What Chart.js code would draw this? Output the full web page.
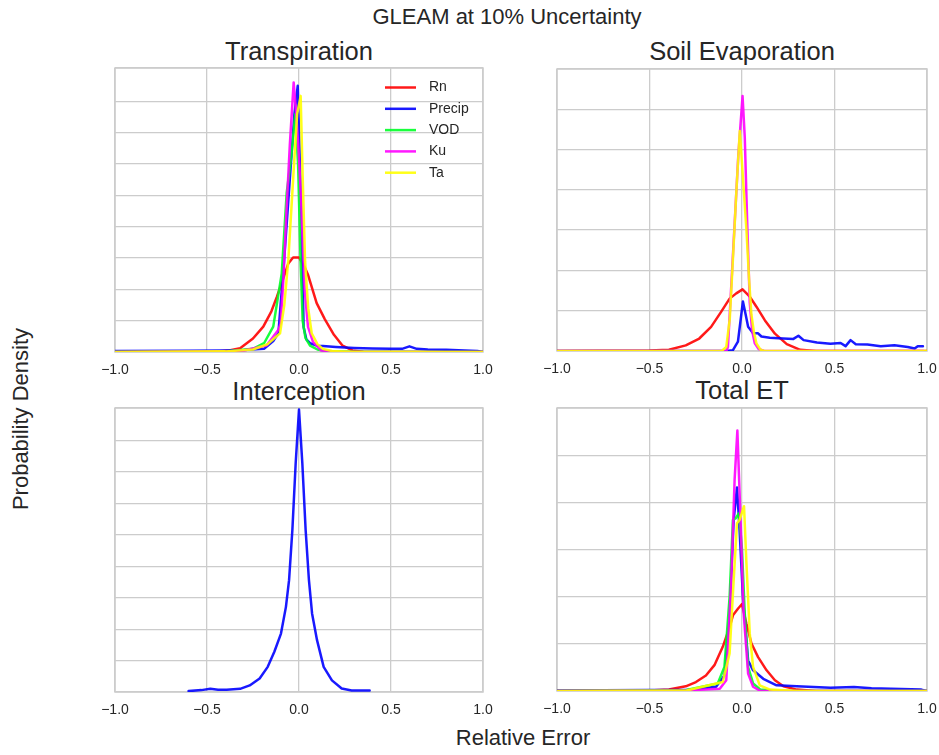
<!DOCTYPE html>
<html>
<head>
<meta charset="utf-8">
<script src="https://cdn.jsdelivr.net/npm/chart.js@4.4.1/dist/chart.umd.min.js"></script>
<style>
  body { margin: 0; background: #fff; width: 939px; height: 755px; position: relative; overflow: hidden;
         font-family: "Liberation Sans", Arial, sans-serif; color: #262626; }
  .txt { position: absolute; transform: translate(-50%, -50%); white-space: nowrap; line-height: 1; }
  canvas { position: absolute; }
</style>
</head>
<body>
<div class="txt" style="left:507px; top:17px; font-size:22px;">GLEAM at 10% Uncertainty</div>
<div class="txt" style="left:299px; top:52px; font-size:25.5px;">Transpiration</div>
<div class="txt" style="left:742px; top:52px; font-size:25.5px;">Soil Evaporation</div>
<div class="txt" style="left:299px; top:392px; font-size:25.5px;">Interception</div>
<div class="txt" style="left:742px; top:391px; font-size:25.5px;">Total ET</div>
<div class="txt" style="left:523px; top:738px; font-size:22px;">Relative Error</div>
<div class="txt" style="left:20.5px; top:419px; font-size:22px; transform: translate(-50%, -50%) rotate(-90deg);">Probability Density</div>

<canvas id="transp"></canvas>
<canvas id="soil"></canvas>
<canvas id="interc"></canvas>
<canvas id="total"></canvas>

<script>
// series names and colours
const seriesNames = ['Rn', 'Precip', 'VOD', 'Ku', 'Ta'];
const seriesColors = ['rgba(255,0,0,0.9)', 'rgba(0,0,255,0.9)', 'rgba(0,255,40,0.9)', 'rgba(255,0,255,0.9)', 'rgba(255,255,0,0.9)'];
const xTicks = [-1, -0.5, 0, 0.5, 1];

// Transpiration
const transRnX = [-1, -0.6, -0.45, -0.38, -0.32, -0.25, -0.194, -0.15, -0.121, -0.085, -0.058, -0.032, 0, 0.03, 0.05, 0.096, 0.14, 0.19, 0.237, 0.29, 0.35, 0.5, 1];
const transRnY = [0, 0.01, 0.04, 0.1, 0.24, 0.86, 1.62, 2.6, 3.5, 4.7, 5.66, 6.04, 6.04, 5.44, 4.9, 3.12, 2.1, 1.1, 0.4, 0.1, 0.02, 0, 0];
const transPrX = [-1, -0.6, -0.4, -0.3, -0.19, -0.14, -0.112, -0.08, -0.05, -0.025, -0.007, 0.012, 0.025, 0.04, 0.06, 0.1, 0.13, 0.2, 0.3, 0.4, 0.5, 0.56, 0.6, 0.64, 0.7, 0.8, 0.9, 0.97, 1];
const transPrY = [0.06, 0.08, 0.1, 0.12, 0.2, 0.7, 1.2, 6.0, 11.0, 15.2, 17.0, 9.0, 1.6, 0.8, 0.56, 0.4, 0.38, 0.32, 0.26, 0.22, 0.2, 0.2, 0.36, 0.2, 0.16, 0.14, 0.1, 0.06, 0];
const transVodX = [-1, -0.4, -0.25, -0.19, -0.14, -0.094, -0.067, -0.041, -0.02, -0.005, 0.008, 0.02, 0.035, 0.06, 0.1, 0.15, 0.3, 1];
const transVodY = [0, 0.04, 0.2, 0.56, 1.62, 5.0, 10.14, 12.6, 15.2, 12.0, 6.0, 2.0, 0.9, 0.4, 0.16, 0.06, 0.02, 0];
const transKuX = [-1, -0.4, -0.3, -0.176, -0.113, -0.1, -0.085, -0.068, -0.05, -0.029, -0.015, 0, 0.013, 0.031, 0.049, 0.076, 0.12, 0.2, 1];
const transKuY = [0, 0.04, 0.1, 0.42, 1.4, 1.8, 4.6, 9.0, 13.2, 17.22, 15.2, 12.4, 9.28, 3.94, 1.6, 0.64, 0.1, 0, 0];
const transTaX = [-1, -0.4, -0.25, -0.17, -0.103, -0.08, -0.058, -0.031, -0.01, 0.009, 0.02, 0.033, 0.05, 0.069, 0.1, 0.13, 0.18, 0.3, 1];
const transTaY = [0, 0.04, 0.16, 0.5, 1.2, 3.0, 5.88, 11.2, 15.2, 16.36, 11.2, 5.8, 2.8, 1.2, 0.5, 0.2, 0.06, 0, 0];

// Soil Evaporation
const soilRnX = [-1, -0.5, -0.395, -0.304, -0.231, -0.167, -0.113, -0.067, -0.031, 0.003, 0.042, 0.078, 0.124, 0.178, 0.242, 0.315, 0.4, 1];
const soilRnY = [0, 0.05, 0.15, 0.7, 1.55, 3.0, 4.85, 6.5, 7.15, 7.65, 6.75, 5.5, 3.8, 2.15, 0.85, 0.15, 0, 0];
const soilPrX = [-1, -0.085, -0.049, -0.022, 0.005, 0.02, 0.033, 0.06, 0.087, 0.105, 0.15, 0.222, 0.278, 0.305, 0.333, 0.405, 0.478, 0.533, 0.56, 0.587, 0.615, 0.678, 0.75, 0.824, 0.896, 0.933, 0.95, 0.978];
const soilPrY = [0, 0, 0.1, 1.15, 6.15, 4.5, 3.0, 2.2, 2.2, 1.8, 1.65, 1.55, 1.5, 1.9, 1.35, 1.05, 0.9, 1.0, 0.6, 1.35, 0.85, 0.8, 0.6, 0.7, 0.5, 0.3, 0.6, 0.6];
const soilKuX = [-1, -0.085, -0.076, -0.06, -0.04, -0.02, 0.003, 0.015, 0.028, 0.042, 0.055, 0.069, 0.09, 0.12, 0.98];
const soilKuY = [0, 0, 0.5, 7.25, 15.75, 24.25, 31.65, 26.5, 16.0, 6.0, 2.5, 0.95, 0.25, 0, 0];
const soilTaX = [-1, -0.11, -0.085, -0.066, -0.05, -0.03, -0.012, 0.005, 0.024, 0.038, 0.051, 0.065, 0.078, 0.1, 0.12, 1];
const soilTaY = [0, 0, 0.5, 4.0, 11.0, 20.0, 27.3, 21.5, 15.0, 9.0, 4.5, 2.25, 0.95, 0.15, 0, 0];

// Interception
const intPrX = [-0.6, -0.53, -0.482, -0.44, -0.393, -0.32, -0.268, -0.214, -0.17, -0.134, -0.098, -0.071, -0.054, -0.036, -0.018, 0, 0.018, 0.036, 0.054, 0.071, 0.098, 0.134, 0.179, 0.232, 0.286, 0.384];
const intPrY = [0.06, 0.12, 0.2, 0.14, 0.14, 0.2, 0.42, 0.86, 1.6, 2.56, 3.72, 5.42, 7.12, 10.32, 14.58, 17.98, 14.58, 10.32, 7.12, 5.0, 3.3, 1.6, 0.74, 0.22, 0.1, 0.1];

// Total ET
const totRnX = [-1, -0.5, -0.395, -0.304, -0.249, -0.195, -0.149, -0.104, -0.067, -0.049, -0.022, 0, 0.024, 0.051, 0.087, 0.133, 0.178, 0.224, 0.296, 0.4, 1];
const totRnY = [0, 0.02, 0.06, 0.2, 0.38, 0.66, 1.1, 1.88, 2.72, 3.22, 3.5, 3.7, 2.86, 2.02, 1.44, 0.88, 0.46, 0.2, 0.06, 0, 0];
const totPrX = [-1, -0.5, -0.3, -0.14, -0.095, -0.067, -0.045, -0.027, -0.013, 0.005, 0.033, 0.06, 0.115, 0.187, 0.296, 0.478, 0.605, 0.7, 0.805, 0.97, 1];
const totPrY = [0.02, 0.04, 0.04, 0.18, 0.66, 3.3, 7.28, 8.66, 6.84, 4.0, 1.3, 0.88, 0.52, 0.24, 0.2, 0.14, 0.17, 0.12, 0.1, 0.06, 0];
const totVodX = [-1, -0.3, -0.131, -0.095, -0.067, -0.049, -0.035, -0.016, 0, 0.015, 0.033, 0.06, 0.1, 0.2, 1];
const totVodY = [0, 0.04, 0.32, 1.02, 4.0, 7.28, 7.34, 7.56, 6.0, 3.3, 1.02, 0.32, 0.06, 0, 0];
const totKuX = [-1, -0.3, -0.12, -0.085, -0.058, -0.04, -0.025, -0.009, 0.009, 0.033, 0.06, 0.1, 1];
const totKuY = [0, 0.02, 0.1, 0.46, 4.72, 8.98, 11.08, 7.56, 3.3, 0.74, 0.18, 0, 0];
const totTaX = [-1, -0.3, -0.104, -0.067, -0.045, -0.027, -0.013, 0.011, 0.024, 0.042, 0.06, 0.096, 0.151, 0.3, 1];
const totTaY = [0, 0.02, 0.38, 1.6, 4.72, 7.14, 7.28, 7.86, 5.42, 2.44, 1.02, 0.24, 0.06, 0, 0];

// frame around the plot area (all four spines)
const marco = {
  id: 'marco',
  beforeDatasetsDraw(chart) {
    const a = chart.chartArea, ctx = chart.ctx;
    ctx.save();
    ctx.strokeStyle = '#cccccc';
    ctx.lineWidth = 1.5;
    ctx.strokeRect(a.left, a.top, a.right - a.left, a.bottom - a.top);
    ctx.restore();
  }
};

// legend drawn inside the Transpiration panel
const leyenda = {
  id: 'leyenda',
  afterDatasetsDraw(chart) {
    if (!chart.options.plugins.leyenda.show) return;
    const a = chart.chartArea, ctx = chart.ctx;
    ctx.save();
    ctx.font = '14px "Liberation Sans", Arial, sans-serif';
    ctx.textBaseline = 'middle';
    ctx.textAlign = 'left';
    seriesNames.forEach((name, i) => {
      const y = a.top + 19.5 + i * 21.3;
      ctx.strokeStyle = seriesColors[i];
      ctx.lineWidth = 2.5;
      ctx.beginPath();
      ctx.moveTo(a.right - 98, y);
      ctx.lineTo(a.right - 67, y);
      ctx.stroke();
      ctx.fillStyle = '#262626';
      ctx.fillText(name, a.right - 54, y);
    });
    ctx.restore();
  }
};

function dibujarPanel(id, box, yMax, yStep, series, showLegend) {
  const padL = 30, padR = 30, padT = 6, axisH = 34;
  const canvas = document.getElementById(id);
  canvas.width = (box.right - box.left) + padL + padR;
  canvas.height = (box.bottom - box.top) + padT + axisH;
  canvas.style.left = (box.left - padL) + 'px';
  canvas.style.top = (box.top - padT) + 'px';

  const datasets = series.map(s => ({
    label: seriesNames[s.idx],
    data: s.xs.map((x, i) => ({ x: x, y: s.ys[i] })),
    borderColor: seriesColors[s.idx],
    borderWidth: 2.5,
    borderJoinStyle: 'round',
    borderCapStyle: 'round',
    pointRadius: 0,
    tension: 0,
    fill: false,
    order: 10 - s.idx
  }));

  new Chart(canvas, {
    type: 'line',
    data: { datasets: datasets },
    options: {
      responsive: false,
      animation: false,
      layout: { padding: { left: padL, right: padR, top: padT, bottom: 0 } },
      plugins: {
        legend: { display: false },
        tooltip: { enabled: false },
        leyenda: { show: showLegend }
      },
      scales: {
        x: {
          type: 'linear',
          min: -1,
          max: 1,
          afterBuildTicks: (scale) => { scale.ticks = xTicks.map(v => ({ value: v })); },
          afterFit: (scale) => { scale.height = axisH; },
          ticks: {
            padding: 10,
            color: '#262626',
            font: { family: '"Liberation Sans", Arial, sans-serif', size: 14 },
            maxRotation: 0,
            callback: (v) => (v < 0 ? '\u2212' : '') + Math.abs(v).toFixed(1)
          },
          grid: { color: '#cccccc', lineWidth: 1.3, drawTicks: false },
          border: { display: false }
        },
        y: {
          min: 0,
          max: yMax,
          afterFit: (scale) => { scale.width = 0; },
          ticks: { display: false, stepSize: yStep },
          grid: { color: '#cccccc', lineWidth: 1.3, drawTicks: false },
          border: { display: false }
        }
      }
    },
    plugins: [marco, leyenda]
  });
}

dibujarPanel('transp', { left: 115, top: 68, right: 483, bottom: 352 }, 18.14, 2, [
  { idx: 0, xs: transRnX, ys: transRnY },
  { idx: 1, xs: transPrX, ys: transPrY },
  { idx: 2, xs: transVodX, ys: transVodY },
  { idx: 3, xs: transKuX, ys: transKuY },
  { idx: 4, xs: transTaX, ys: transTaY }
], true);

dibujarPanel('soil', { left: 557, top: 69, right: 927, bottom: 351 }, 35, 5, [
  { idx: 0, xs: soilRnX, ys: soilRnY },
  { idx: 1, xs: soilPrX, ys: soilPrY },
  { idx: 3, xs: soilKuX, ys: soilKuY },
  { idx: 4, xs: soilTaX, ys: soilTaY }
], false);

dibujarPanel('interc', { left: 115, top: 408, right: 483, bottom: 692 }, 18.08, 2, [
  { idx: 1, xs: intPrX, ys: intPrY }
], false);

dibujarPanel('total', { left: 557, top: 408, right: 927, bottom: 691 }, 12.04, 2, [
  { idx: 0, xs: totRnX, ys: totRnY },
  { idx: 1, xs: totPrX, ys: totPrY },
  { idx: 2, xs: totVodX, ys: totVodY },
  { idx: 3, xs: totKuX, ys: totKuY },
  { idx: 4, xs: totTaX, ys: totTaY }
], false);
</script>
</body>
</html>
